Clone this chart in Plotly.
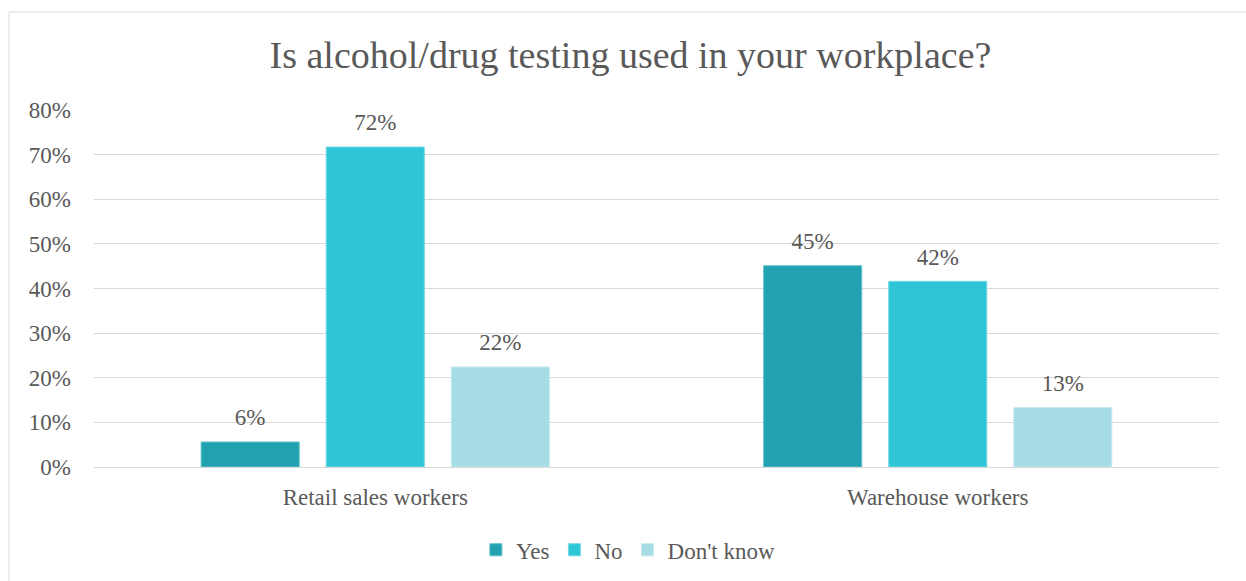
import plotly.graph_objects as go

# Survey results: share of respondents by occupation group
categories = ["Retail sales workers", "Warehouse workers"]
series_names = ["Yes", "No", "Don't know"]
yes_vals = [0.056, 0.451]
no_vals = [0.717, 0.416]
dont_know_vals = [0.224, 0.133]

colors = ["#22A1B0", "#2EC6D6", "#A6DDE5"]
outline = ["#5CC0CB", "#6FD8E3", "#C4E9EE"]
font_family = "Liberation Serif, DejaVu Serif, serif"
text_grey = "#595959"

fig = go.Figure()
for name, vals, col, edge in zip(series_names, [yes_vals, no_vals, dont_know_vals], colors, outline):
    fig.add_trace(go.Bar(
        name=name,
        x=categories,
        y=vals,
        offsetgroup=name,
        marker=dict(color=col, line=dict(color=edge, width=1)),
    ))

# Value labels, placed in the same groups as the bars and lifted above them
for name, vals in zip(series_names, [yes_vals, no_vals, dont_know_vals]):
    fig.add_trace(go.Scatter(
        x=categories,
        y=vals,
        offsetgroup=name,
        mode="markers+text",
        marker=dict(size=16, opacity=0),
        text=[f"{round(v * 100)}%" for v in vals],
        textposition="top center",
        textfont=dict(family=font_family, size=23, color=text_grey),
        showlegend=False,
        hoverinfo="skip",
        cliponaxis=False,
    ))

fig.update_layout(
    width=1246,
    height=581,
    margin=dict(l=94, r=27, t=110, b=114, autoexpand=False),
    paper_bgcolor="white",
    plot_bgcolor="white",
    barmode="group",
    scattermode="group",
    bargap=0.333,
    bargroupgap=0.216,
    font=dict(family=font_family, color=text_grey),
    title=dict(
        text="Is alcohol/drug testing used in your workplace?",
        x=0.506, xref="container", xanchor="center",
        y=1 - 55 / 581, yref="container", yanchor="middle",
        font=dict(family=font_family, size=38, color=text_grey),
    ),
    legend=dict(
        orientation="h",
        x=0.475, xanchor="center",
        y=-0.232, yanchor="middle",
        font=dict(family=font_family, size=23, color=text_grey),
        itemwidth=30,
        traceorder="normal",
    ),
    xaxis=dict(
        automargin=False,
        showgrid=False,
        showline=False,
        ticks="",
        tickfont=dict(family=font_family, size=23, color=text_grey),
        ticklabelstandoff=14,
    ),
    yaxis=dict(
        automargin=False,
        range=[0, 0.8],
        dtick=0.1,
        tickformat=".0%",
        showgrid=True,
        gridcolor="#D9D9D9",
        gridwidth=1,
        zeroline=True,
        zerolinecolor="#D9D9D9",
        zerolinewidth=1,
        ticks="",
        tickfont=dict(family=font_family, size=23, color=text_grey),
        ticklabelstandoff=22,
    ),
    shapes=[dict(
        type="rect", xref="paper", yref="paper",
        x0=(9 - 94) / 1125, x1=1.2,
        y0=-0.6, y1=(467 - 12) / 357,
        line=dict(color="#D9D9D9", width=1),
        fillcolor="rgba(0,0,0,0)",
        layer="below",
    )],
)

fig.write_html("out.html")
